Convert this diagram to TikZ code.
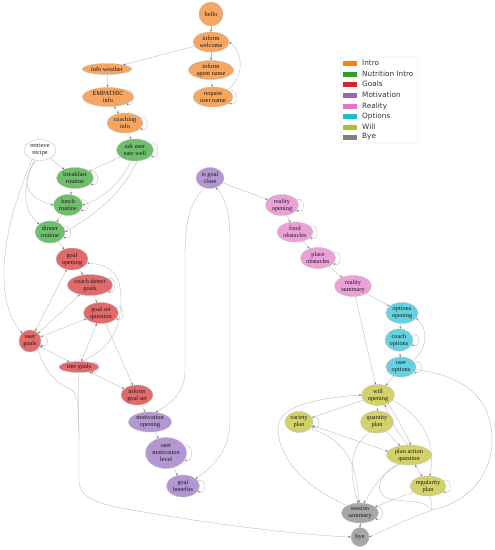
\documentclass[tikz,border=0pt]{standalone}
\usepackage{fontspec}
\setmainfont{Liberation Serif}
\newfontfamily\legendfont{DejaVu Sans}
\usetikzlibrary{shapes.geometric,arrows.meta}
\definecolor{nIntro}{RGB}{246,166,96}
\definecolor{nNutr}{RGB}{110,190,110}
\definecolor{nGoal}{RGB}{226,106,106}
\definecolor{nMot}{RGB}{180,150,210}
\definecolor{nReal}{RGB}{235,160,215}
\definecolor{nOpt}{RGB}{100,210,225}
\definecolor{nWill}{RGB}{210,210,105}
\definecolor{nBye}{RGB}{166,166,166}
\definecolor{tOrange}{RGB}{255,127,14}
\definecolor{tGreen}{RGB}{44,160,44}
\definecolor{tRed}{RGB}{214,39,40}
\definecolor{tPurple}{RGB}{148,103,189}
\definecolor{tPink}{RGB}{227,119,194}
\definecolor{tCyan}{RGB}{23,190,207}
\definecolor{tOlive}{RGB}{188,189,34}
\definecolor{tGray}{RGB}{127,127,127}
\tikzset{
  gt/.tip={Stealth[length=2.4pt,width=1.9pt,color=black!55]},
  e/.style={draw=black!27, line width=0.35pt, -gt},
  eb/.style={draw=black!27, line width=0.35pt, gt-gt},
  en/.style={draw=black!27, line width=0.35pt},
  base/.style={ellipse, draw=black!25, line width=0.35pt, inner sep=0pt, align=center,
    font=\fontsize{6.3}{7}\selectfont, text=black!90},
  sz/.style 2 args={minimum width=#1pt, minimum height=#2pt},
  intro/.style={base, fill=nIntro},
  nutr/.style={base, fill=nNutr},
  goal/.style={base, fill=nGoal},
  mot/.style={base, fill=nMot},
  real/.style={base, fill=nReal},
  opt/.style={base, fill=nOpt},
  will/.style={base, fill=nWill},
  byest/.style={base, fill=nBye},
  plain/.style={base, fill=white},
  sw/.style={rectangle, inner sep=0pt, minimum width=14pt, minimum height=5pt},
  lt/.style={anchor=west, inner sep=0pt, font=\legendfont\fontsize{7.3}{8}\selectfont, text=black!80},
}
\begin{document}
\begin{tikzpicture}[x=1pt,y=-1pt]
\useasboundingbox[fill=white] (0,0) rectangle (495,550);
% Intro
\node[intro, sz={24}{24}] (hello) at (211,14) {hello};
\node[intro, sz={36}{20}] (welcome) at (211,42) {inform\\welcome};
\node[intro, sz={49}{11}] (weather) at (107,69) {info weather};
\node[intro, sz={45}{19}] (agent) at (211,70) {inform\\agent name};
\node[intro, sz={40}{20}] (reqname) at (213,97) {request\\user name};
\node[intro, sz={51}{19}] (empathic) at (108,97) {EMPATHIC\\info};
\node[intro, sz={36}{20}] (coaching) at (125,123) {coaching\\info};
% Nutrition
\node[nutr, sz={37}{22}] (askuser) at (135,150) {ask user\\eats well};
\node[plain, sz={32}{21}] (retrieve) at (40,150) {retrieve\\recipe};
\node[nutr, sz={37}{21}] (breakfast) at (75,178) {breakfast\\routine};
\node[nutr, sz={29}{21}] (lunch) at (68,205) {lunch\\routine};
\node[nutr, sz={30}{22}] (dinner) at (50,232) {dinner\\routine};
% Goals
\node[goal, sz={32}{22}] (goalopen) at (72,259) {goal\\opening};
\node[goal, sz={45}{21}] (coachdetect) at (90,285) {coach detect\\goals};
\node[goal, sz={35}{21}] (goalset) at (101,313) {goal set\\question};
\node[goal, sz={22}{22}] (usergoals) at (30,341) {user\\goals};
\node[goal, sz={40}{11}] (treegoals) at (79,367) {tree goals};
\node[goal, sz={32}{20}] (informgoal) at (137,395) {inform\\goal set};
% Motivation
\node[mot, sz={28}{21}] (isgoal) at (210,178) {is goal\\close};
\node[mot, sz={43}{20}] (motopen) at (150,422) {motivation\\opening};
\node[mot, sz={41}{31}] (usermot) at (166,453) {user\\motivation\\level};
\node[mot, sz={33}{22}] (goalben) at (183,486) {goal\\benefits};
% Reality
\node[real, sz={33}{21}] (realopen) at (282,205) {reality\\opening};
\node[real, sz={36}{20}] (food) at (295,232) {food\\obstacles};
\node[real, sz={35}{21}] (place) at (318,258) {place\\obstacles};
\node[real, sz={37}{21}] (realsum) at (353,286) {reality\\summary};
% Options
\node[opt, sz={32}{21}] (optopen) at (402,313) {options\\opening};
\node[opt, sz={28}{22}] (coachopt) at (399,340) {coach\\options};
\node[opt, sz={30}{20}] (useropt) at (401,367) {user\\options};
% Will
\node[will, sz={33}{21}] (willopen) at (378,395) {will\\opening};
\node[will, sz={28}{21}] (variety) at (299,422) {variety\\plan};
\node[will, sz={33}{22}] (quantity) at (377,422) {quantity\\plan};
\node[will, sz={45}{20}] (planaction) at (409,455) {plan action\\question};
\node[will, sz={36}{20}] (regularity) at (428,486) {regularity\\plan};
% Bye
\node[byest, sz={37}{20}] (session) at (360,513) {session\\summary};
\node[byest, sz={18}{19}] (bye) at (360,537) {bye};
\coordinate (m1) at (79,440);
\coordinate (m2) at (432,510);
% Intro edges
\draw[e] (hello) -- (welcome);
\draw[e] (welcome) -- (weather);
\draw[e] (welcome) -- (agent);
\draw[e] (agent) -- (reqname);
\draw[e] (reqname.north east) .. controls (245,78) and (243,52) .. (welcome.east);
\draw[e] (weather) -- (empathic);
\draw[eb] (empathic) -- (coaching);
\draw[e] (coaching) -- (askuser);
% Nutrition edges
\draw[e] (askuser) -- (breakfast);
\draw[e] (askuser.250) .. controls (120,185) and (100,200) .. (lunch.east);
\draw[e] (askuser.280) .. controls (122,195) and (90,218) .. (dinner.east);
\draw[e] (retrieve) -- (breakfast);
\draw[e] (retrieve.250) .. controls (20,180) and (25,198) .. (lunch.west);
\draw[e] (retrieve.240) .. controls (21,190) and (24,212) .. (dinner.north west);
\draw[e] (retrieve.230) .. controls (15,200) and (3,240) .. (4,280) .. controls (5,310) and (15,325) .. (usergoals.north west);
\draw[e] (breakfast) -- (lunch);
\draw[e] (lunch) -- (dinner);
\draw[e] (dinner) -- (goalopen);
% Goals edges
\draw[e] (goalopen) -- (coachdetect);
\draw[e] (coachdetect) -- (goalset);
\draw[eb] (goalopen) -- (usergoals);
\draw[eb] (coachdetect) -- (usergoals);
\draw[eb] (goalset) -- (usergoals);
\draw[eb] (usergoals) -- (treegoals);
\draw[eb] (goalset) -- (treegoals);
\draw[e] (treegoals.60) .. controls (100,352) and (121,340) .. (121,300) .. controls (121,275) and (112,265) .. (goalopen.-15);
\draw[e] (goalset) -- (informgoal);
\draw[eb] (treegoals) -- (informgoal);
\draw[e] (informgoal) -- (motopen);
\draw[en] (usergoals.south east) .. controls (45,375) and (60,385) .. (72,390) .. controls (78,394) and (79,410) .. (m1);
\draw[e] (treegoals.south) .. controls (77,400) and (79,420) .. (m1) -- (79,480) .. controls (79,500) and (100,505) .. (150,513) .. controls (220,525) and (300,535) .. (bye.west);
% Motivation edges
\draw[e] (isgoal.240) .. controls (188,205) and (185,225) .. (185,260) -- (185,370) .. controls (185,392) and (172,403) .. (motopen.60);
\draw[eb] (goalben.30) .. controls (215,465) and (230,450) .. (230,420) -- (230,240) .. controls (230,210) and (224,195) .. (isgoal.300);
\draw[e] (motopen) -- (usermot);
\draw[e] (usermot) -- (goalben);
\draw[e] (isgoal) -- (realopen);
% Reality edges
\draw[e] (realopen) -- (food);
\draw[e] (food) -- (place);
\draw[e] (place) -- (realsum);
\draw[e] (realsum) -- (optopen);
\draw[e] (realsum) -- (willopen);
% Options edges
\draw[e] (optopen) -- (coachopt);
\draw[e] (coachopt) -- (useropt);
\draw[e] (useropt.30) .. controls (428,350) and (428,328) .. (optopen.-20);
\draw[e] (useropt) -- (willopen);
\draw[en] (useropt.-10) .. controls (460,375) and (492,395) .. (492,440) .. controls (492,478) and (465,503) .. (m2);
\draw[e] (m2) .. controls (405,520) and (385,530) .. (bye.east);
% Will edges
\draw[e] (willopen) -- (variety);
\draw[e] (session.150) .. controls (300,485) and (278,455) .. (278,428) .. controls (278,405) and (320,398) .. (willopen.west);
\draw[e] (willopen) -- (quantity);
\draw[e] (quantity) -- (planaction);
\draw[eb] (variety.-15) -- (planaction.170);
\draw[e] (variety.-30) .. controls (345,440) and (356,460) .. (session.95);
\draw[e] (quantity.235) .. controls (350,445) and (348,470) .. (session.100);
\draw[e] (willopen.-40) .. controls (398,420) and (405,432) .. (planaction.80);
\draw[e] (planaction.95) .. controls (396,432) and (390,418) .. (willopen.-55);
\draw[e] (willopen.-20) .. controls (420,415) and (437,440) .. (regularity.80);
\draw[eb] (planaction) -- (regularity);
\draw[e] (planaction.225) .. controls (378,475) and (373,490) .. (session.70);
\draw[en] (planaction.220) .. controls (376,475) and (372,498) .. (395,500) .. controls (410,502) and (425,500) .. (m2);
\draw[en] (regularity.-80) .. controls (431,500) and (432,505) .. (m2);
\draw[e] (regularity) -- (session);
\draw[e] (session) -- (bye);
% self loops
\foreach \n in {reqname,empathic,coaching,askuser,breakfast,lunch,dinner,coachdetect,goalset,usergoals,treegoals,usermot,goalben,realopen,food,place,coachopt,useropt,variety,regularity,session}{
  \draw[e] (\n.20) .. controls +(9pt,4pt) and +(9pt,-4pt) .. (\n.-20);
}
% Legend
\node[draw=black!15, fill=white, rounded corners=1pt, line width=0.4pt, minimum width=77pt, minimum height=86pt, inner sep=0pt] (legend) at (379.5,100) {};
\node[sw, fill=tOrange] (s1) at (350,63) {};
\node[lt] (l1) at (362,63) {Intro};
\node[sw, fill=tGreen] (s2) at (350,74) {};
\node[lt] (l2) at (362,74) {Nutrition Intro};
\node[sw, fill=tRed] (s3) at (350,84) {};
\node[lt] (l3) at (362,84) {Goals};
\node[sw, fill=tPurple] (s4) at (350,95) {};
\node[lt] (l4) at (362,95) {Motivation};
\node[sw, fill=tPink] (s5) at (350,106) {};
\node[lt] (l5) at (362,106) {Reality};
\node[sw, fill=tCyan] (s6) at (350,116) {};
\node[lt] (l6) at (362,116) {Options};
\node[sw, fill=tOlive] (s7) at (350,127) {};
\node[lt] (l7) at (362,127) {Will};
\node[sw, fill=tGray] (s8) at (350,137) {};
\node[lt] (l8) at (362,137) {Bye};
\end{tikzpicture}
\end{document}
